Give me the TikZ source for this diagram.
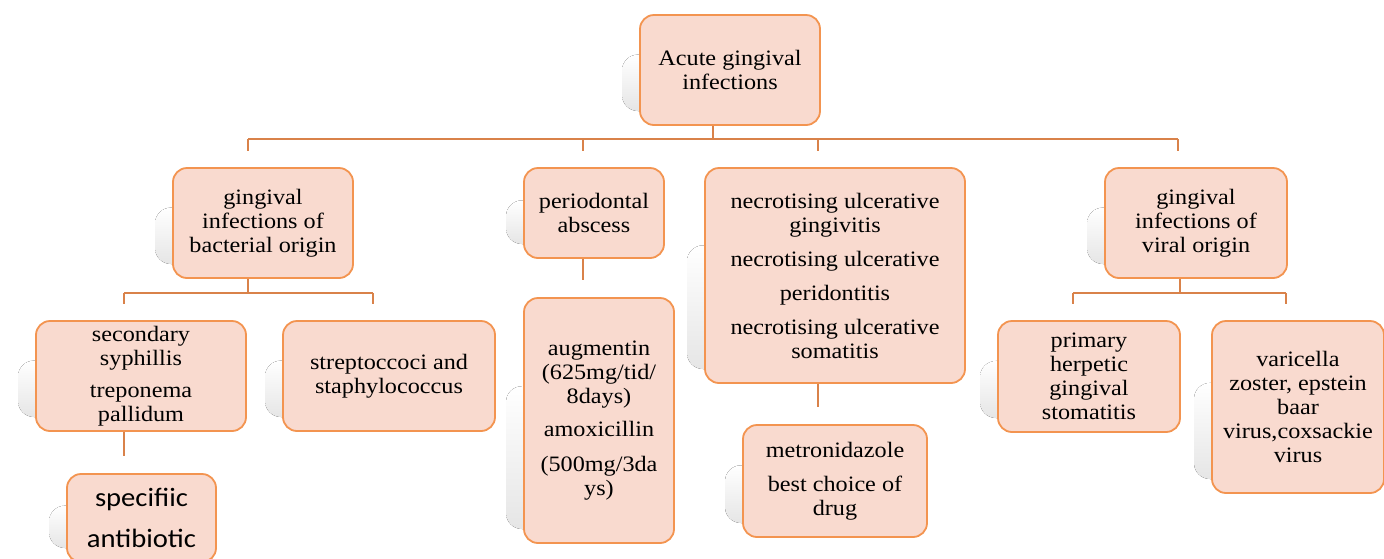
\documentclass[tikz,border=0pt]{standalone}
\usepackage{fontspec}
\setmainfont[FakeStretch=1.1]{Liberation Serif}
\newfontfamily\sansf[FakeStretch=1.08]{Carlito}
\definecolor{boxfill}{HTML}{F9DACF}
\definecolor{boxline}{HTML}{F39450}
\definecolor{connc}{HTML}{D9824A}
\tikzset{
  boxst/.style={draw=boxline, fill=boxfill, line width=1.8pt, rounded corners=14pt,
    align=center, inner sep=2pt, font=\fontsize{22}{24}\selectfont},
  conn/.style={draw=connc, line width=2pt},
  shadowfill/.style={top color=white, bottom color=black!10}
}
\newcommand\bx[7][]{%
  \pgfmathsetmacro\bxw{#5-#3}\pgfmathsetmacro\bxh{#6-#4}%
  \pgfmathsetmacro\bxcx{(#3+#5)/2}\pgfmathsetmacro\bxcy{(#4+#6)/2}%
  \pgfmathsetmacro\shya{#4+0.36*(#6-#4)}\pgfmathsetmacro\shyb{#6-14}%
  \pgfmathsetmacro\shxa{#3-18}\pgfmathsetmacro\shxb{#5-18}%
  \fill[shadowfill, rounded corners=16pt] (\shxa,\shya) rectangle (\shxb,\shyb);
  \node[boxst, minimum width=\bxw pt, minimum height=\bxh pt, #1] (#2) at (\bxcx,\bxcy) {#7};
}
\begin{document}
\begin{tikzpicture}[x=1pt,y=-1pt]
\path[use as bounding box] (0,0) rectangle (1384,558);
\clip (0,0) rectangle (1384,558);
\fill[white] (0,0) rectangle (1384,558);

% boxes
\bx{root}{640}{15}{820}{125}{Acute gingival\\infections}
\bx{bact}{173}{168}{353}{278}{gingival\\infections of\\bacterial origin}
\bx{perio}{524}{168}{664}{258}{periodontal\\abscess}
\bx{nug}{705}{168}{965}{383}{necrotising ulcerative\\gingivitis\\[10pt]necrotising ulcerative\\[10pt]peridontitis\\[10pt]necrotising ulcerative\\somatitis}
\bx{viral}{1105}{168}{1287}{278}{gingival\\infections of\\viral origin}
\bx{sec}{36}{321}{246}{431}{secondary\\syphillis\\[8pt]treponema\\pallidum}
\bx{strep}{283}{321}{495}{431}{streptoccoci and\\staphylococcus}
\bx[font=\sansf\fontsize{26.5}{41}\selectfont]{spec}{67}{474}{216}{562}{specifiic\\antibiotic}
\bx{aug}{524}{298}{674}{543}{augmentin\\(625mg/tid/\\8days)\\[9pt]amoxicillin\\[11pt](500mg/3da\\ys)}
\bx{metro}{743}{425}{927}{537}{metronidazole\\[10pt]best choice of\\drug}
\bx{prim}{998}{321}{1180}{432}{primary\\herpetic\\gingival\\stomatitis}
\bx{vari}{1212}{321}{1384}{493}{varicella\\zoster, epstein\\baar\\virus,coxsackie\\virus}

% junction coordinates
\coordinate (j0) at (713,139);
\coordinate (ta) at (248,139);  \coordinate (tae) at (248,151);
\coordinate (tb) at (583,139);  \coordinate (tbe) at (583,151);
\coordinate (tc) at (818,139);  \coordinate (tce) at (818,151);
\coordinate (td) at (1178,139); \coordinate (tde) at (1178,151);
\coordinate (j1) at (248,293);
\coordinate (ua) at (124,293);  \coordinate (uae) at (124,304);
\coordinate (ub) at (373,293);  \coordinate (ube) at (373,304);
\coordinate (j2) at (1180,293);
\coordinate (va) at (1073,293); \coordinate (vae) at (1073,304);
\coordinate (vb) at (1286,293); \coordinate (vbe) at (1286,304);
\coordinate (s1) at (124,456);
\coordinate (s2) at (583,280);
\coordinate (s3) at (818,407);

% connectors
\draw[conn] (root.south -| j0) -- (j0);
\draw[conn] (ta) -- (td);
\draw[conn] (ta) -- (tae);
\draw[conn] (tb) -- (tbe);
\draw[conn] (tc) -- (tce);
\draw[conn] (td) -- (tde);
\draw[conn] (bact.south -| j1) -- (j1);
\draw[conn] (ua) -- (ub);
\draw[conn] (ua) -- (uae);
\draw[conn] (ub) -- (ube);
\draw[conn] (viral.south -| j2) -- (j2);
\draw[conn] (va) -- (vb);
\draw[conn] (va) -- (vae);
\draw[conn] (vb) -- (vbe);
\draw[conn] (sec.south -| s1) -- (s1);
\draw[conn] (perio.south -| s2) -- (s2);
\draw[conn] (nug.south -| s3) -- (s3);
\end{tikzpicture}
\end{document}
